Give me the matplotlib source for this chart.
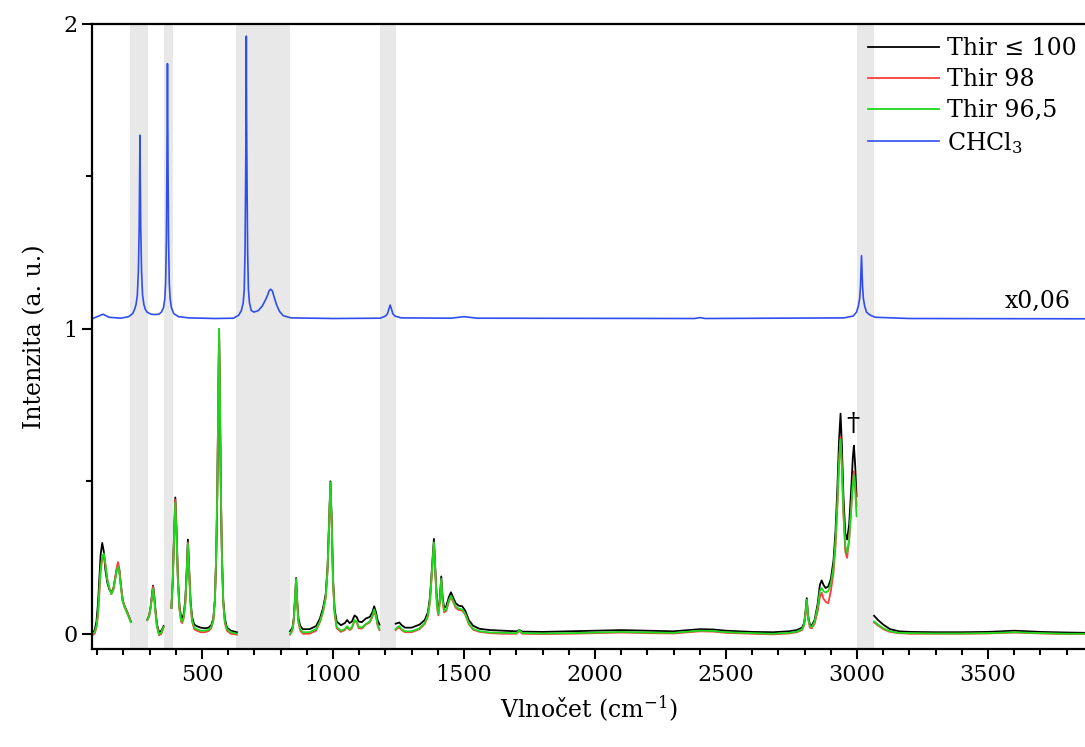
import matplotlib
matplotlib.use("Agg")
import matplotlib.pyplot as plt
from matplotlib.ticker import MultipleLocator
import numpy as np

nan = np.nan

# Thir spectra share one x grid; nan marks the cut-out regions
thir_x = [
    80, 90, 97, 103, 108, 113, 119, 125, 131, 138, 146, 154, 162, 168, 174, 179, 184, 190, 197, 205, 215, 228, nan,
    291, 298, 304, 309, 313, 317, 322, 328, 336, 345, 353, nan,
    383, 388, 393, 398, 403, 408, 414, 420, 424, 430, 436, 441, 446, 451, 456, 462, 470, 480,
    495, 510, 525, 535, 543, 549, 554, 558, 562, 565, 568, 572, 576, 581, 587, 595, 610, 633, nan,
    836, 845, 850, 855, 859, 863, 868, 875, 885, 910, 935, 950, 962, 972, 979, 985, 990, 995, 1000,
    1006, 1014, 1030, 1045, 1054, 1063, 1072, 1082, 1090, 1098, 1110, 1125, 1140, 1150, 1157, 1164, 1170, 1177, nan,
    1239, 1246, 1253, 1262, 1275, 1300, 1330, 1350, 1362, 1370,
    1378, 1385, 1391, 1397, 1402, 1408, 1413, 1418, 1424, 1432,
    1442, 1450, 1458, 1468, 1480, 1493, 1505, 1518, 1535, 1560,
    1600, 1650, 1700, 1711, 1722, 1800, 1900, 2000, 2100, 2200,
    2300, 2400, 2450, 2500, 2600, 2680, 2740, 2770, 2790, 2798,
    2803, 2808, 2813, 2820, 2827, 2838, 2850, 2858, 2865, 2872,
    2880, 2890, 2900, 2910, 2918, 2925, 2931, 2937, 2942, 2948,
    2955, 2962, 2970, 2978, 2984, 2988, 2993, 2998, nan,
    3065, 3080, 3100, 3126, 3160, 3200, 3300, 3400, 3500, 3600, 3700, 3800, 3870,
]
thir100 = [
    0.005, 0.01, 0.04, 0.1, 0.18, 0.26, 0.298, 0.27, 0.21, 0.17, 0.145, 0.135, 0.15, 0.18, 0.21, 0.225, 0.21, 0.16, 0.11, 0.088, 0.07, 0.04, nan,
    0.046, 0.06, 0.09, 0.13, 0.158, 0.13, 0.08, 0.03, 0.005, 0.01, 0.025, nan,
    0.085, 0.17, 0.32, 0.447, 0.33, 0.18, 0.09, 0.055, 0.05, 0.065, 0.11, 0.2, 0.309, 0.21, 0.11, 0.055, 0.03, 0.025,
    0.02, 0.018, 0.02, 0.028, 0.05, 0.11, 0.25, 0.45, 0.75, 0.99, 0.78, 0.45, 0.25, 0.11, 0.05, 0.02, 0.01, 0.005, nan,
    0.008, 0.02, 0.05, 0.12, 0.183, 0.11, 0.05, 0.025, 0.015, 0.015, 0.025, 0.05, 0.085, 0.13, 0.22, 0.37, 0.5, 0.37, 0.18,
    0.08, 0.04, 0.028, 0.035, 0.045, 0.035, 0.04, 0.06, 0.055, 0.04, 0.038, 0.05, 0.055, 0.07, 0.09, 0.07, 0.045, 0.03, nan,
    0.033, 0.035, 0.037, 0.028, 0.02, 0.02, 0.03, 0.045, 0.07, 0.12,
    0.22, 0.311, 0.2, 0.1, 0.075, 0.12, 0.188, 0.12, 0.085, 0.09,
    0.12, 0.136, 0.12, 0.1, 0.092, 0.09, 0.075, 0.045, 0.026, 0.016,
    0.012, 0.01, 0.008, 0.012, 0.007, 0.006, 0.008, 0.01, 0.012, 0.01,
    0.008, 0.015, 0.014, 0.01, 0.006, 0.005, 0.008, 0.012, 0.02, 0.035,
    0.07, 0.117, 0.06, 0.03, 0.027, 0.045, 0.1, 0.16, 0.175, 0.16,
    0.15, 0.155, 0.18, 0.24, 0.34, 0.48, 0.63, 0.722, 0.62, 0.45,
    0.33, 0.309, 0.36, 0.48, 0.58, 0.617, 0.55, 0.451, nan,
    0.059, 0.045, 0.03, 0.015, 0.008, 0.006, 0.005, 0.005, 0.006, 0.01, 0.006, 0.004, 0.003,
]
thir98 = [
    -0.005, 0.0, 0.02, 0.06, 0.13, 0.205, 0.245, 0.26, 0.23, 0.18, 0.15, 0.13, 0.148, 0.18, 0.215, 0.235, 0.215, 0.165, 0.11, 0.09, 0.07, 0.04, nan,
    0.045, 0.058, 0.088, 0.127, 0.155, 0.125, 0.075, 0.025, -0.005, 0.0, 0.02, nan,
    0.085, 0.168, 0.315, 0.44, 0.32, 0.17, 0.08, 0.04, 0.035, 0.05, 0.095, 0.185, 0.3, 0.2, 0.095, 0.04, 0.015, 0.01,
    0.005, 0.005, 0.009, 0.018, 0.042, 0.11, 0.26, 0.46, 0.76, 1.0, 0.79, 0.46, 0.25, 0.1, 0.035, 0.01, 0.0, -0.003, nan,
    -0.003, 0.01, 0.04, 0.11, 0.175, 0.1, 0.035, 0.01, 0.0, 0.0, 0.01, 0.038, 0.072, 0.118, 0.205, 0.355, 0.49, 0.35, 0.165,
    0.065, 0.018, 0.006, 0.012, 0.022, 0.012, 0.018, 0.042, 0.037, 0.018, 0.017, 0.03, 0.037, 0.055, 0.075, 0.055, 0.027, 0.012, nan,
    0.012, 0.018, 0.02, 0.012, 0.005, 0.005, 0.015, 0.032, 0.057, 0.105,
    0.205, 0.295, 0.185, 0.085, 0.06, 0.105, 0.175, 0.105, 0.07, 0.075,
    0.105, 0.12, 0.105, 0.085, 0.078, 0.076, 0.062, 0.032, 0.013, 0.006,
    0.002, 0.0, 0.0, 0.009, 0.0, -0.001, 0.0, 0.002, 0.004, 0.002,
    0.001, 0.008, 0.007, 0.003, 0.0, -0.002, 0.001, 0.005, 0.012, 0.027,
    0.06, 0.11, 0.05, 0.02, 0.018, 0.033, 0.075, 0.12, 0.135, 0.115,
    0.105, 0.1, 0.14, 0.2, 0.29, 0.42, 0.56, 0.645, 0.55, 0.39,
    0.27, 0.249, 0.31, 0.42, 0.5, 0.533, 0.49, 0.42, nan,
    0.037, 0.027, 0.015, 0.006, 0.002, 0.0, 0.0, 0.0, 0.001, 0.004, 0.001, -0.001, -0.001,
]
thir965 = [
    0.0, 0.005, 0.025, 0.07, 0.14, 0.215, 0.255, 0.263, 0.23, 0.18, 0.15, 0.13, 0.145, 0.175, 0.205, 0.22, 0.205, 0.155, 0.105, 0.085, 0.065, 0.038, nan,
    0.045, 0.058, 0.085, 0.122, 0.148, 0.12, 0.07, 0.022, -0.002, 0.005, 0.022, nan,
    0.085, 0.165, 0.31, 0.43, 0.31, 0.165, 0.08, 0.045, 0.04, 0.055, 0.1, 0.19, 0.295, 0.2, 0.1, 0.045, 0.02, 0.015,
    0.01, 0.01, 0.013, 0.022, 0.045, 0.11, 0.26, 0.46, 0.76, 1.0, 0.79, 0.46, 0.25, 0.1, 0.04, 0.015, 0.005, 0.0, nan,
    0.0, 0.015, 0.045, 0.115, 0.18, 0.105, 0.04, 0.015, 0.005, 0.005, 0.015, 0.04, 0.075, 0.12, 0.21, 0.36, 0.497, 0.36, 0.17,
    0.07, 0.022, 0.01, 0.015, 0.025, 0.015, 0.022, 0.045, 0.04, 0.022, 0.02, 0.032, 0.04, 0.058, 0.08, 0.06, 0.03, 0.015, nan,
    0.015, 0.022, 0.025, 0.015, 0.008, 0.008, 0.018, 0.035, 0.06, 0.11,
    0.21, 0.3, 0.19, 0.09, 0.065, 0.11, 0.18, 0.11, 0.075, 0.08,
    0.11, 0.125, 0.11, 0.09, 0.082, 0.08, 0.065, 0.035, 0.016, 0.008,
    0.004, 0.003, 0.002, 0.012, 0.002, 0.001, 0.002, 0.004, 0.006, 0.004,
    0.003, 0.01, 0.009, 0.005, 0.002, 0.0, 0.003, 0.007, 0.015, 0.03,
    0.065, 0.112, 0.055, 0.025, 0.022, 0.04, 0.09, 0.14, 0.15, 0.14,
    0.135, 0.14, 0.165, 0.22, 0.31, 0.43, 0.56, 0.637, 0.55, 0.4,
    0.29, 0.265, 0.31, 0.41, 0.49, 0.522, 0.47, 0.385, nan,
    0.04, 0.03, 0.018, 0.008, 0.003, 0.002, 0.001, 0.001, 0.002, 0.005, 0.002, 0.0, 0.0,
]

# CHCl3 reference, scaled x0.06 and shifted up
chcl3_x = [
    80, 100, 122, 145, 190, 220, 235, 243, 248, 253,
    257, 260, 262, 263, 264, 266, 269, 273, 278, 283,
    290, 305, 320, 335, 345, 353, 358, 361, 364, 366,
    368, 370, 372, 375, 378, 383, 392, 410, 450, 550,
    620, 640, 650, 657, 661, 664, 666, 668, 669, 670,
    672, 674, 677, 681, 688, 698, 715, 730, 742, 750,
    756, 762, 768, 775, 784, 795, 810, 840, 1000, 1180,
    1200, 1208, 1213, 1218, 1223, 1228, 1236, 1260, 1450, 1500,
    1550, 2380, 2400, 2420, 2950, 2985, 2998, 3005, 3010, 3013,
    3017, 3021, 3024, 3029, 3036, 3050, 3070, 3200, 3870,
]
chcl3_y = [
    1.033, 1.04, 1.048, 1.038, 1.035, 1.04, 1.05, 1.065, 1.08, 1.11,
    1.19, 1.33, 1.52, 1.635, 1.52, 1.33, 1.19, 1.11, 1.08, 1.065,
    1.055, 1.048, 1.047, 1.048, 1.055, 1.07, 1.1, 1.15, 1.3, 1.55,
    1.87, 1.55, 1.3, 1.15, 1.1, 1.07, 1.05, 1.04, 1.036, 1.034,
    1.035, 1.045, 1.06, 1.085, 1.13, 1.25, 1.45, 1.7, 1.96, 1.7,
    1.45, 1.25, 1.13, 1.085, 1.06, 1.055, 1.06, 1.075, 1.095, 1.11,
    1.125, 1.13, 1.125, 1.105, 1.08, 1.058, 1.043, 1.036, 1.034, 1.035,
    1.042, 1.05, 1.065, 1.078, 1.065, 1.05, 1.042, 1.036, 1.035, 1.04,
    1.035, 1.034, 1.037, 1.034, 1.036, 1.042, 1.055, 1.075, 1.1, 1.14,
    1.24, 1.14, 1.1, 1.075, 1.055, 1.045, 1.038, 1.034, 1.033,
]

# regions removed from the Thir spectra (solvent bands)
bands = [(225, 294), (355, 389), (630, 836), (1179, 1240), (2999, 3064)]

assert len(thir_x) == len(thir100) == len(thir98) == len(thir965)
assert len(chcl3_x) == len(chcl3_y)

plt.rcParams["font.family"] = ["DejaVu Serif"]
plt.rcParams["mathtext.fontset"] = "dejavuserif"

fig = plt.figure(figsize=(10.85, 7.47), dpi=100)
ax = fig.add_axes([0.0848, 0.1312, 0.9152, 0.8367])

for lo, hi in bands:
    ax.axvspan(lo, hi, color="#e8e8e8", lw=0, zorder=0)

ax.plot(thir_x, thir100, color="black", lw=1.3, label="Thir \u2264 100")
ax.plot(thir_x, thir98, color="#ff3b3b", lw=1.3, label="Thir 98")
ax.plot(thir_x, thir965, color="#1ed81e", lw=1.3, label="Thir 96,5")
ax.plot(chcl3_x, chcl3_y, color="#2f4ef0", lw=1.2, label="CHCl$_3$")

ax.text(3690, 1.09, "x0,06", fontsize=17, ha="center", va="center")
ax.text(2985, 0.69, "\u2020", fontsize=19, ha="center", va="center")

ax.set_xlim(80, 3870)
ax.set_ylim(-0.05, 2)
ax.xaxis.set_major_locator(MultipleLocator(500))
ax.xaxis.set_minor_locator(MultipleLocator(100))
ax.yaxis.set_major_locator(MultipleLocator(1))
ax.yaxis.set_minor_locator(MultipleLocator(0.5))
ax.tick_params(which="major", direction="out", length=7, width=1.5, labelsize=16)
ax.tick_params(which="minor", direction="out", length=4, width=1.5)
for s in ["left", "bottom", "top"]:
    ax.spines[s].set_linewidth(1.6)
ax.spines["right"].set_visible(False)

ax.set_xlabel("Vlnočet (cm$^{-1}$)", fontsize=17, labelpad=6)
ax.set_ylabel("Intenzita (a. u.)", fontsize=17, labelpad=12)

ax.legend(loc="upper right", bbox_to_anchor=(1.0, 0.992), frameon=False, fontsize=17,
          handlelength=3.0, labelspacing=0.33, handletextpad=0.35,
          borderpad=0.15, borderaxespad=0.2)

fig.savefig("out.png", dpi=100)
